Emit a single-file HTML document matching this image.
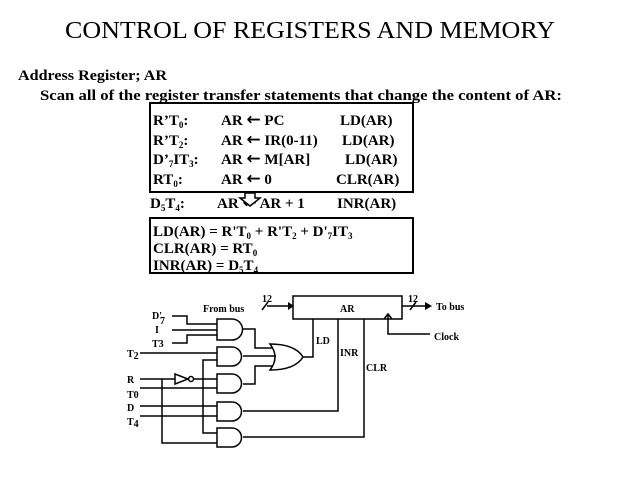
<!DOCTYPE html>
<html><head><style>
body{margin:0;background:#fff;}
svg{display:block;}
text{font-family:"Liberation Serif",serif;fill:#000;}
.b{font-weight:bold;}
.ar{font-family:"DejaVu Sans",sans-serif;font-size:17px;}
</style></head><body>
<svg width="638" height="479" viewBox="0 0 638 479">
<text x="65" y="38" font-size="24" textLength="490" lengthAdjust="spacingAndGlyphs">CONTROL  OF  REGISTERS  AND  MEMORY</text>
<text class="b" x="18" y="80" font-size="15" textLength="149" lengthAdjust="spacingAndGlyphs">Address Register; AR</text>
<text class="b" x="40" y="100" font-size="15" textLength="522" lengthAdjust="spacingAndGlyphs">Scan all of the register transfer statements that change the content of AR:</text>
<rect x="150" y="103" width="263" height="89" fill="none" stroke="#000" stroke-width="2"/>
<g class="b" font-size="15">
<text class="b" x="153" y="125">R’T<tspan font-size="9" dy="3">0</tspan><tspan dy="-3">:</tspan></text>
<text class="b" x="221" y="125">AR <tspan class="ar">←</tspan> PC</text><text class="b" x="340" y="125">LD(AR)</text>
<text class="b" x="153" y="145">R’T<tspan font-size="9" dy="3">2</tspan><tspan dy="-3">:</tspan></text>
<text class="b" x="221" y="145">AR <tspan class="ar">←</tspan> IR(0-11)</text><text class="b" x="342" y="145">LD(AR)</text>
<text class="b" x="153" y="164">D’<tspan font-size="9" dy="3">7</tspan><tspan dy="-3">IT</tspan><tspan font-size="9" dy="3">3</tspan><tspan dy="-3">:</tspan></text>
<text class="b" x="221" y="164">AR <tspan class="ar">←</tspan> M[AR]</text><text class="b" x="345" y="164">LD(AR)</text>
<text class="b" x="153" y="184">RT<tspan font-size="9" dy="3">0</tspan><tspan dy="-3">:</tspan></text>
<text class="b" x="221" y="184">AR <tspan class="ar">←</tspan> 0</text><text class="b" x="336" y="184">CLR(AR)</text>
<text class="b" x="150" y="208">D<tspan font-size="9" dy="3">5</tspan><tspan dy="-3">T</tspan><tspan font-size="9" dy="3">4</tspan><tspan dy="-3">:</tspan></text>
<text class="b" x="217" y="208">AR <tspan class="ar">←</tspan> AR + 1</text><text class="b" x="337" y="208">INR(AR)</text>
</g>
<path d="M245 193 L255 193 L255 198 L260 198 L250 206 L240 198 L245 198 Z" fill="#fff" stroke="#000" stroke-width="1.5"/>
<rect x="150" y="218" width="263" height="55" fill="none" stroke="#000" stroke-width="2"/>
<text class="b" x="153" y="236" font-size="15">LD(AR) = R'T<tspan font-size="9" dy="3">0</tspan><tspan dy="-3"> + R'T</tspan><tspan font-size="9" dy="3">2</tspan><tspan dy="-3"> + D'</tspan><tspan font-size="9" dy="3">7</tspan><tspan dy="-3">IT</tspan><tspan font-size="9" dy="3">3</tspan></text>
<text class="b" x="153" y="253" font-size="15">CLR(AR) = RT<tspan font-size="9" dy="3">0</tspan></text>
<text class="b" x="153" y="270" font-size="15">INR(AR) = D<tspan font-size="9" dy="3">5</tspan><tspan dy="-3">T</tspan><tspan font-size="9" dy="3">4</tspan></text>

<g stroke="#000" stroke-width="1.5" fill="none">
<rect x="293" y="296" width="109" height="23"/>
<line x1="267" y1="306" x2="288" y2="306"/><line x1="262" y1="310" x2="268" y2="302"/>
<line x1="402" y1="306" x2="425" y2="306"/><line x1="410" y1="310" x2="416" y2="302"/>
<path d="M384 319 L388 314 L392 319"/>
<path d="M388 315 L388 334 L430 334"/>
<path d="M313 319 V357 H303"/>
<path d="M338 319 V411 H243"/>
<path d="M364 319 V437 H243"/>
<path d="M217 319 H232 A10.5 10.5 0 0 1 232 340 H217 Z"/>
<path d="M217 347 H232 A9.5 9.5 0 0 1 232 366 H217 Z"/>
<path d="M217 374 H232 A9.5 9.5 0 0 1 232 393 H217 Z"/>
<path d="M217 402 H232 A9.5 9.5 0 0 1 232 421 H217 Z"/>
<path d="M217 428 H232 A9.5 9.5 0 0 1 232 447 H217 Z"/>
<path d="M270 344 Q280 357 270 370 Q295 370 303 357 Q295 344 270 344 Z"/>
<path d="M243 329 H255 V348 H273"/>
<line x1="243" y1="356" x2="276" y2="356"/>
<path d="M243 384 H255 V366 H273"/>
<path d="M172 316 H187 V324 H217"/>
<line x1="172" y1="330" x2="217" y2="330"/>
<path d="M172 343 H187 V335 H217"/>
<line x1="140" y1="353" x2="217" y2="353"/>
<line x1="140" y1="379" x2="175" y2="379"/>
<path d="M175 374 L188 379 L175 384 Z"/>
<circle cx="191" cy="379" r="2.5"/>
<line x1="194" y1="379" x2="217" y2="379"/>
<path d="M217 360 H203 V433 H217"/>
<path d="M162 379 V443 H217"/>
<line x1="140" y1="388" x2="217" y2="388"/>
<line x1="140" y1="406" x2="217" y2="406"/>
<line x1="140" y1="416" x2="217" y2="416"/>
</g>
<path d="M288 302 L294 306 L288 310 Z" fill="#000"/>
<path d="M425 302 L432 306 L425 310 Z" fill="#000"/>
<g class="b" font-size="10">
<text class="b" x="203" y="312">From bus</text>
<text class="b" x="262" y="302">12</text>
<text class="b" x="408" y="302">12</text>
<text class="b" x="340" y="312">AR</text>
<text class="b" x="436" y="310">To bus</text>
<text class="b" x="434" y="340">Clock</text>
<text class="b" x="316" y="344">LD</text>
<text class="b" x="340" y="356">INR</text>
<text class="b" x="366" y="371">CLR</text>
<text class="b" x="152" y="319">D'</text><text class="b" x="160" y="324">7</text>
<text class="b" x="155" y="333">I</text>
<text class="b" x="152" y="347">T3</text>
<text class="b" x="127" y="357">T<tspan dy="2">2</tspan></text>
<text class="b" x="127" y="383">R</text>
<text class="b" x="127" y="398">T0</text>
<text class="b" x="127" y="411">D</text>
<text class="b" x="127" y="425">T<tspan dy="2">4</tspan></text>
</g>
</svg>
</body></html>
